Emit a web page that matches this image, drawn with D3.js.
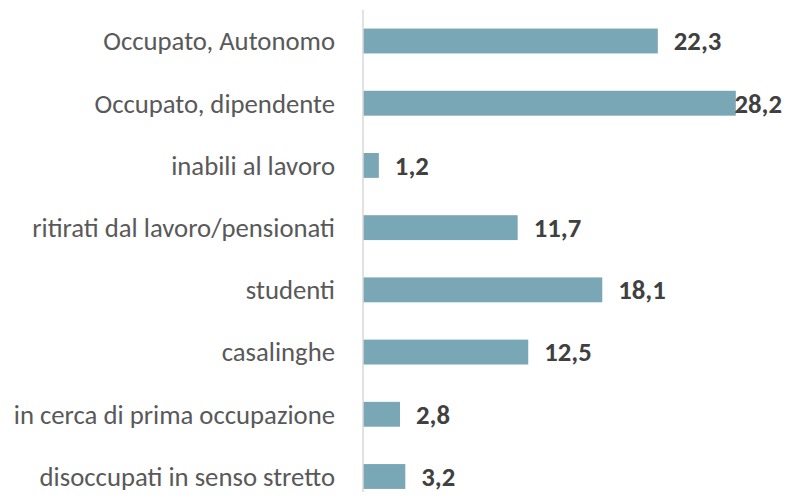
<!DOCTYPE html>
<html><head><meta charset="utf-8">
<script src="https://cdn.jsdelivr.net/npm/d3@7"></script>
<style>body{margin:0;background:#fff}svg{display:block}</style>
</head><body>
<svg id="c" width="785" height="502"></svg>
<script>
const categories = ["Occupato, Autonomo","Occupato, dipendente","inabili al lavoro","ritirati dal lavoro/pensionati","studenti","casalinghe","in cerca di prima occupazione","disoccupati in senso stretto"];
const values = [22.3, 28.2, 1.2, 11.7, 18.1, 12.5, 2.8, 3.2];
const valueLabels = ["22,3","28,2","1,2","11,7","18,1","12,5","2,8","3,2"];

const svg = d3.select("#c");
const W = 785, H = 502;
const x0 = 363;
const x = d3.scaleLinear().domain([0, 30]).range([x0, x0 + 30*13.22]);
const y = d3.scaleBand().domain(categories).range([9.9, 507.6]).paddingInner(0.6).paddingOuter(0.3);

const font = "Carlito, Calibri, Lato, 'Open Sans', sans-serif";

svg.append("g").selectAll("rect").data(values).join("rect")
  .attr("x", x(0))
  .attr("y", (d,i) => y(categories[i]))
  .attr("width", d => x(d) - x(0))
  .attr("height", y.bandwidth())
  .attr("fill", "#7AA7B6");

svg.append("line").attr("x1", x0).attr("x2", x0).attr("y1", 10).attr("y2", 492)
  .attr("stroke", "#d9d9d9").attr("stroke-width", 1.5);

const cl = svg.append("g").selectAll("text").data(categories).join("text")
  .attr("x", 335)
  .attr("y", d => y(d) + y.bandwidth()/2)
  .attr("dy", "0.35em")
  .attr("text-anchor", "end")
  .attr("font-family", font)
  .attr("font-size", 19)
  .attr("fill", "#595959")
  .text(d => d);

// scale font so "ritirati dal lavoro/pensionati" is ~303px wide as in the reference
let refW = 0;
cl.filter(d => d === categories[3]).each(function(){ refW = this.getComputedTextLength(); });
const fs = 19 * 303 / refW;
cl.attr("font-size", fs);

const vl = svg.append("g").selectAll("text").data(values).join("text")
  .attr("y", (d,i) => y(categories[i]) + y.bandwidth()/2)
  .attr("dy", "0.35em")
  .attr("font-family", font)
  .attr("font-size", fs)
  .attr("font-weight", "bold")
  .attr("fill", "#404040")
  .text((d,i) => valueLabels[i]);
vl.each(function(d){
  const w = this.getComputedTextLength();
  d3.select(this).attr("x", Math.min(x(d) + 16, W - 3 - w));
});
</script>
</body></html>
